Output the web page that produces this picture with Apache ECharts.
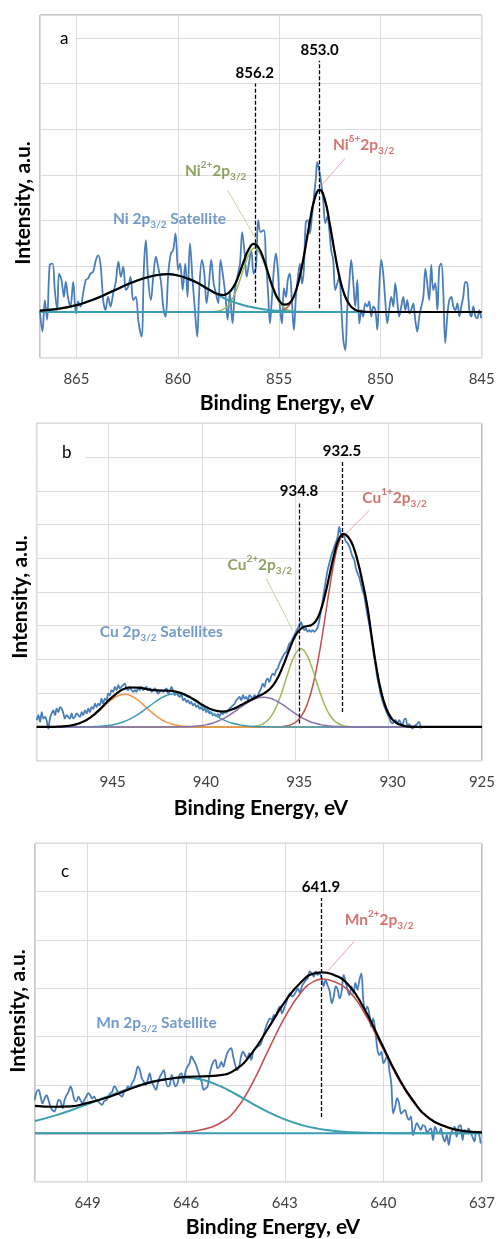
<!DOCTYPE html>
<html>
<head>
<meta charset="utf-8">
<script src="https://cdn.jsdelivr.net/npm/echarts/dist/echarts.min.js"></script>
<style>
  html, body { margin: 0; padding: 0; background: #ffffff; }
  #chart { width: 498px; height: 1239px; }
</style>
</head>
<body>
<div id="chart"></div>
<script>
// ---------- (a) Ni 2p3/2 region : [binding energy / eV, intensity / a.u.] ----------
const niSpectrum = [
  [866.81,0.04],[866.68,-0.43],[866.56,0.26],[866.45,-0.17],[866.32,1.03],[866.18,1.06],[866.07,0.48],[865.95,0.04],
  [865.86,0.84],[865.74,0.70],[865.62,0.33],[865.53,0.66],[865.41,0.30],[865.30,0.12],[865.16,0.66],[865.03,-0.03],
  [864.92,0.23],[864.80,0.12],[864.67,0.41],[864.54,0.70],[864.42,0.74],[864.31,0.84],[864.18,0.88],[864.04,1.14],
  [863.93,1.24],[863.81,1.03],[863.68,0.26],[863.57,0.04],[863.44,0.33],[863.32,0.12],[863.19,0.41],[863.06,0.66],
  [862.93,1.10],[862.81,0.77],[862.69,0.99],[862.56,0.48],[862.45,0.55],[862.33,0.77],[862.20,0.26],[862.07,0.33],
  [861.94,-0.21],[861.79,-0.54],[861.67,0.99],[861.58,1.57],[861.46,0.70],[861.33,0.26],[861.21,0.77],[861.08,1.21],
  [860.97,0.99],[860.83,0.66],[860.72,0.12],[860.60,-0.10],[860.47,0.84],[860.34,1.28],[860.23,1.35],[860.11,1.72],
  [859.98,0.92],[859.88,1.06],[859.76,0.48],[859.63,1.06],[859.52,0.33],[859.40,1.50],[859.27,0.70],[859.16,0.08],
  [859.04,-0.54],[858.94,0.48],[858.81,1.14],[858.69,0.84],[858.58,0.19],[858.46,0.63],[858.35,1.14],[858.23,0.63],
  [858.12,0.41],[858.00,0.19],[857.89,1.14],[857.76,0.77],[857.64,0.33],[857.54,-0.17],[857.43,0.41],[857.30,-0.25],
  [857.18,0.48],[857.06,0.77],[856.93,1.06],[856.82,1.75],[856.70,1.28],[856.60,0.77],[856.49,1.06],[856.37,1.35],
  [856.26,0.84],[856.14,0.99],[856.03,2.01],[855.91,1.75],[855.75,1.79],[855.65,1.14],[855.55,0.48],[855.45,-0.25],
  [855.36,0.26],[855.26,0.92],[855.16,1.28],[855.06,0.92],[854.96,0.12],[854.86,-0.25],[854.76,0.52],[854.66,0.33],
  [854.57,0.70],[854.47,0.84],[854.37,0.26],[854.27,-0.39],[854.17,0.33],[854.07,0.77],[853.97,1.06],[853.87,0.62],
  [853.78,0.92],[853.68,1.97],[853.58,2.01],[853.48,1.72],[853.38,2.08],[853.28,2.52],[853.18,2.95],[853.12,3.28],
  [853.02,3.10],[852.92,2.81],[852.82,2.45],[852.72,1.94],[852.62,2.08],[852.52,1.79],[852.43,1.35],[852.33,1.14],
  [852.23,0.48],[852.13,0.62],[852.03,0.77],[851.93,0.12],[851.83,-0.61],[851.73,-0.83],[851.64,0.04],[851.54,0.62],
  [851.44,1.14],[851.34,0.66],[851.24,0.12],[851.14,0.70],[851.04,-0.25],[850.94,0.04],[850.85,-0.10],[850.75,0.19],
  [850.65,0.12],[850.55,0.23],[850.45,-0.10],[850.35,0.12],[850.25,0.04],[850.15,-0.39],[850.06,0.48],[849.96,1.14],
  [849.86,0.84],[849.76,0.26],[849.66,-0.25],[849.56,0.08],[849.46,0.33],[849.36,0.12],[849.27,0.63],[849.17,0.26],
  [849.07,-0.10],[848.97,0.12],[848.87,0.33],[848.77,0.04],[848.67,0.26],[848.57,-0.03],[848.48,0.04],[848.38,0.19],
  [848.28,-0.17],[848.18,-0.43],[848.08,-0.10],[847.98,0.12],[847.88,0.33],[847.78,0.95],[847.69,0.63],[847.59,0.26],
  [847.49,1.03],[847.39,0.48],[847.29,0.63],[847.19,0.04],[847.09,0.99],[846.99,1.06],[846.90,0.48],[846.80,-0.68],
  [846.70,-0.10],[846.60,0.26],[846.50,0.33],[846.40,0.12],[846.30,0.04],[846.20,0.19],[846.10,-0.10],[846.01,0.12],
  [845.91,0.33],[845.81,0.66],[845.71,0.63],[845.61,0.04],[845.51,-0.10],[845.41,0.12],[845.31,-0.10],[845.22,-0.14],
  [845.12,0.04],[845.02,-0.14]
];
const niFitTotal = [
  [866.8,0.03],[866.5,0.04],[866.0,0.065],[865.5,0.10],[865.0,0.15],[864.5,0.22],[864.0,0.30],[863.5,0.40],
  [863.0,0.50],[862.5,0.60],[862.0,0.69],[861.5,0.76],[861.0,0.81],[860.5,0.83],[860.0,0.80],[859.5,0.73],
  [859.0,0.63],[858.5,0.50],[858.25,0.44],[858.0,0.39],[857.75,0.37],[857.5,0.415],[857.25,0.55],[857.0,0.79],
  [856.75,1.10],[856.5,1.37],[856.25,1.49],[856.0,1.40],[855.75,1.14],[855.5,0.79],[855.25,0.47],[855.0,0.255],
  [854.75,0.16],[854.5,0.19],[854.25,0.37],[854.0,0.74],[853.75,1.29],[853.5,1.93],[853.25,2.47],[853.0,2.68],
  [852.75,2.47],[852.5,1.93],[852.25,1.29],[852.0,0.73],[851.75,0.35],[851.5,0.144],[851.25,0.05],[851.0,0.015],
  [850.5,0],[848.0,0],[845.0,0]
];
const niSatellite = [
  [866.8,0.03],[866.5,0.04],[866.0,0.065],[865.5,0.10],[865.0,0.15],[864.5,0.22],[864.0,0.30],[863.5,0.40],
  [863.0,0.50],[862.5,0.60],[862.0,0.69],[861.5,0.76],[861.0,0.81],[860.5,0.83],[860.0,0.80],[859.5,0.73],
  [859.0,0.63],[858.5,0.50],[858.0,0.37],[857.5,0.26],[857.0,0.18],[856.5,0.12],[856.0,0.075],[855.5,0.045],
  [855.0,0.025],[854.5,0.012],[854.0,0.005],[853.5,0.002],[853.0,0],[850.0,0],[845.0,0]
];
const niNi2 = [
  [866.8,0],[862.0,0],[858.75,0],[858.5,0.001],[858.25,0.006],[858.0,0.021],[857.75,0.062],[857.5,0.155],
  [857.25,0.334],[857.0,0.61],[856.75,0.945],[856.5,1.245],[856.2,1.40],[856.0,1.33],[855.75,1.08],[855.5,0.74],
  [855.25,0.43],[855.0,0.215],[854.75,0.091],[854.5,0.033],[854.25,0.01],[854.0,0.002],[853.75,0],[850.0,0],[845.0,0]
];
const niNiDelta = [
  [866.8,0],[860.0,0],[856.0,0],[855.75,0.001],[855.5,0.002],[855.25,0.004],[855.0,0.015],[854.75,0.05],
  [854.5,0.144],[854.25,0.35],[854.0,0.73],[853.75,1.29],[853.5,1.93],[853.25,2.47],[853.0,2.68],[852.75,2.47],
  [852.5,1.93],[852.25,1.29],[852.0,0.73],[851.75,0.35],[851.5,0.144],[851.25,0.05],[851.0,0.015],[850.75,0.003],
  [850.5,0],[848.0,0],[845.0,0]
];
const niBackground = [[866.8,0],[845.0,0]];
const niPeaks = [856.2, 853.0];
const niTicks = [845, 850, 855, 860, 865];

// ---------- (b) Cu 2p3/2 region ----------
const cuSpectrum = [
  [948.85,0.20],[948.76,0.35],[948.67,0.15],[948.58,0.44],[948.49,0.25],[948.40,0.30],[948.32,0.20],[948.23,-0.05],
  [948.14,0.25],[948.05,0.40],[947.96,0.49],[947.87,0.35],[947.78,0.54],[947.69,0.44],[947.60,0.59],[947.51,0.54],
  [947.42,0.40],[947.34,0.25],[947.25,0.35],[947.16,0.30],[947.07,0.25],[946.98,0.40],[946.89,0.25],[946.80,0.30],
  [946.71,0.40],[946.62,0.35],[946.53,0.30],[946.44,0.44],[946.36,0.35],[946.27,0.49],[946.18,0.40],[946.09,0.54],
  [946.00,0.44],[945.91,0.59],[945.82,0.54],[945.73,0.69],[945.64,0.59],[945.55,0.69],[945.47,0.64],[945.38,0.84],
  [945.29,0.69],[945.20,0.84],[945.11,0.79],[945.02,0.99],[944.93,0.94],[944.84,1.09],[944.75,1.04],[944.66,1.19],
  [944.57,1.09],[944.48,1.24],[944.40,1.14],[944.31,1.19],[944.22,1.24],[944.13,1.28],[944.04,1.14],[943.95,1.09],
  [943.86,1.19],[943.77,1.09],[943.68,1.04],[943.59,1.09],[943.51,1.04],[943.42,1.14],[943.33,1.09],[943.24,1.19],
  [943.15,1.09],[943.06,1.14],[942.97,1.19],[942.88,1.09],[942.79,1.14],[942.70,1.04],[942.61,1.09],[942.53,1.14],
  [942.44,1.09],[942.35,0.99],[942.26,1.04],[942.17,1.09],[942.08,1.04],[941.99,1.09],[941.90,1.14],[941.81,0.99],
  [941.72,1.04],[941.63,1.19],[941.55,1.09],[941.46,0.94],[941.37,0.99],[941.28,0.94],[941.19,0.89],[941.10,0.99],
  [941.01,0.79],[940.92,0.84],[940.83,0.74],[940.74,0.79],[940.65,0.69],[940.57,0.74],[940.48,0.64],[940.39,0.69],
  [940.30,0.59],[940.21,0.64],[940.12,0.54],[940.03,0.59],[939.94,0.49],[939.85,0.54],[939.76,0.44],[939.67,0.49],
  [939.59,0.40],[939.50,0.44],[939.41,0.35],[939.32,0.38],[939.23,0.32],[939.14,0.38],[939.05,0.32],[938.96,0.42],
  [938.87,0.38],[938.78,0.44],[938.69,0.42],[938.61,0.49],[938.52,0.54],[938.43,0.59],[938.34,0.64],[938.25,0.69],
  [938.16,0.79],[938.07,0.84],[937.98,0.89],[937.89,0.79],[937.80,0.94],[937.71,0.84],[937.63,0.89],[937.54,0.79],
  [937.45,0.94],[937.36,0.89],[937.27,0.84],[937.18,0.94],[937.09,0.89],[937.00,0.94],[936.92,1.04],[936.83,1.14],
  [936.74,1.28],[936.65,1.19],[936.56,1.38],[936.47,1.43],[936.39,1.33],[936.30,1.48],[936.21,1.58],[936.12,1.53],
  [936.03,1.68],[935.94,1.73],[935.85,1.88],[935.76,1.98],[935.67,2.08],[935.58,2.17],[935.49,2.22],[935.41,2.32],
  [935.32,2.47],[935.23,2.52],[935.14,2.62],[935.05,2.72],[934.96,2.82],[934.87,2.92],[934.78,3.01],[934.69,3.11],
  [934.60,2.96],[934.51,2.87],[934.43,2.92],[934.34,2.82],[934.25,2.87],[934.16,2.82],[934.07,2.87],[933.98,2.82],
  [933.89,2.87],[933.80,2.96],[933.71,3.16],[933.62,3.46],[933.53,3.75],[933.45,4.05],[933.36,4.35],[933.27,4.64],
  [933.18,4.84],[933.09,5.04],[933.00,5.19],[932.91,5.34],[932.82,5.48],[932.73,5.63],[932.64,5.93],[932.56,5.73],
  [932.47,5.68],[932.38,5.63],[932.29,5.50],[932.20,5.45],[932.11,5.35],[932.02,5.20],[931.93,5.05],[931.84,4.95],
  [931.75,4.70],[931.66,4.55],[931.58,4.45],[931.49,4.25],[931.40,4.05],[931.31,3.90],[931.22,3.60],[931.13,3.30],
  [931.04,3.05],[930.95,2.75],[930.86,2.40],[930.77,2.05],[930.68,1.75],[930.60,1.45],[930.51,1.20],[930.42,0.95],
  [930.33,0.78],[930.24,0.62],[930.15,0.50],[930.06,0.38],[929.97,0.28],[929.88,0.15],[929.79,0.10],[929.70,0.18],
  [929.62,0.20],[929.53,0.08],[929.44,0.20],[929.35,0.12],[929.26,0.05],[929.17,0.22],[929.08,0.25],[928.99,0.00],
  [928.90,0.08],[928.81,0.02],[928.72,-0.05],[928.63,0.03],[928.55,0.05],[928.46,0.10],[928.37,0.15],[928.28,-0.05]
];
const cuFitTotal = [
  [948.85,0],[948.4,0.001],[947.9,0.005],[947.4,0.018],[946.9,0.057],[946.4,0.146],[945.9,0.313],[945.4,0.559],
  [944.9,0.838],[944.4,1.063],[944.15,1.134],[943.9,1.170],[943.4,1.166],[942.9,1.116],[942.4,1.085],[941.9,1.077],
  [941.4,1.048],[940.9,0.958],[940.4,0.806],[939.9,0.633],[939.4,0.501],[938.9,0.457],[938.4,0.515],[937.9,0.648],
  [937.65,0.725],[937.4,0.799],[937.15,0.867],[936.9,0.931],[936.65,1.003],[936.4,1.105],[936.15,1.261],[935.9,1.499],
  [935.65,1.813],[935.4,2.174],[935.15,2.522],[934.9,2.787],[934.65,2.934],[934.4,2.986],[934.15,3.016],[933.9,3.137],
  [933.65,3.434],[933.4,3.924],[933.15,4.539],[932.9,5.145],[932.65,5.583],[932.4,5.723],[932.15,5.62],[931.9,5.36],
  [931.65,4.90],[931.4,4.30],[931.15,3.60],[930.9,2.65],[930.65,1.75],[930.4,1.05],[930.15,0.58],[929.9,0.30],
  [929.65,0.15],[929.4,0.07],[929.15,0.03],[928.9,0.01],[928.4,0],[927.0,0],[925.0,0]
];
const cuSatA = [
  [948.85,0],[948.4,0.001],[947.9,0.005],[947.4,0.018],[946.9,0.056],[946.4,0.143],[945.9,0.305],[945.4,0.537],
  [944.9,0.784],[944.4,0.947],[944.15,0.970],[943.9,0.947],[943.4,0.784],[942.9,0.537],[942.4,0.305],[941.9,0.143],
  [941.4,0.056],[940.9,0.018],[940.4,0.005],[939.9,0.001],[939.4,0],[935.0,0],[925.0,0]
];
const cuSatB = [
  [948.85,0],[947.4,0],[946.9,0.001],[946.4,0.003],[945.9,0.008],[945.4,0.022],[944.9,0.054],[944.4,0.116],
  [944.15,0.164],[943.9,0.223],[943.4,0.382],[942.9,0.579],[942.4,0.780],[941.9,0.933],[941.4,0.990],[940.9,0.933],
  [940.4,0.780],[939.9,0.579],[939.4,0.382],[938.9,0.223],[938.4,0.116],[937.9,0.054],[937.65,0.035],[937.4,0.022],
  [937.15,0.013],[936.9,0.008],[936.4,0.003],[935.9,0.001],[935.4,0],[931.0,0],[925.0,0]
];
const cuSatC = [
  [948.85,0],[944.0,0],[941.9,0],[941.4,0.002],[940.9,0.007],[940.4,0.021],[939.9,0.053],[939.4,0.119],
  [938.9,0.234],[938.4,0.399],[937.9,0.593],[937.65,0.687],[937.4,0.769],[937.15,0.833],[936.9,0.870],[936.65,0.879],
  [936.4,0.859],[936.15,0.810],[935.9,0.739],[935.65,0.651],[935.4,0.554],[935.15,0.456],[934.9,0.362],[934.65,0.278],
  [934.4,0.207],[934.15,0.148],[933.9,0.103],[933.65,0.069],[933.4,0.045],[933.15,0.028],[932.9,0.017],[932.65,0.010],
  [932.4,0.006],[931.9,0.002],[931.4,0],[928.0,0],[925.0,0]
];
const cuCu2 = [
  [948.85,0],[942.0,0],[938.4,0],[937.9,0.001],[937.65,0.003],[937.4,0.008],[937.15,0.021],[936.9,0.053],
  [936.65,0.119],[936.4,0.243],[936.15,0.449],[935.9,0.753],[935.65,1.146],[935.4,1.582],[935.15,1.981],[934.9,2.249],
  [934.7,2.32],[934.45,2.20],[934.15,1.832],[933.9,1.407],[933.65,0.981],[933.4,0.620],[933.15,0.355],[932.9,0.185],
  [932.65,0.087],[932.4,0.037],[932.15,0.014],[931.9,0.005],[931.65,0.002],[931.4,0],[928.0,0],[925.0,0]
];
const cuCu1 = [
  [948.85,0],[942.0,0],[936.4,0],[936.15,0.002],[935.9,0.006],[935.65,0.016],[935.4,0.038],[935.15,0.085],
  [934.9,0.176],[934.65,0.341],[934.4,0.616],[934.15,1.036],[933.9,1.627],[933.65,2.384],[933.4,3.259],[933.15,4.156],
  [932.9,4.943],[932.65,5.486],[932.4,5.68],[932.15,5.60],[931.9,5.35],[931.65,4.90],[931.4,4.30],[931.15,3.60],
  [930.9,2.65],[930.65,1.75],[930.4,1.05],[930.15,0.58],[929.9,0.30],[929.65,0.15],[929.4,0.07],[929.15,0.03],
  [928.9,0.01],[928.4,0],[927.0,0],[925.0,0]
];
const cuPeaks = [934.8, 932.5];
const cuTicks = [925, 930, 935, 940, 945];

// ---------- (c) Mn 2p3/2 region ----------
const mnSpectrum = [
  [650.61,0.69],[650.55,0.86],[650.49,0.90],[650.43,0.76],[650.37,0.62],[650.31,0.72],[650.25,0.79],[650.19,0.69],
  [650.13,0.55],[650.07,0.48],[650.01,0.45],[649.95,0.55],[649.88,0.69],[649.82,0.66],[649.76,0.52],[649.70,0.69],
  [649.64,0.79],[649.58,0.86],[649.52,0.97],[649.46,0.86],[649.40,0.69],[649.34,0.66],[649.28,0.76],[649.22,0.69],
  [649.16,0.62],[649.10,0.69],[649.04,0.76],[648.98,0.83],[648.92,0.79],[648.86,0.72],[648.80,0.76],[648.74,0.69],
  [648.68,0.66],[648.62,0.62],[648.56,0.59],[648.50,0.66],[648.43,0.69],[648.37,0.76],[648.31,0.83],[648.25,0.86],
  [648.19,0.97],[648.13,0.93],[648.07,0.83],[648.01,0.79],[647.95,0.76],[647.89,0.86],[647.83,0.90],[647.77,0.97],
  [647.71,0.93],[647.65,1.04],[647.59,1.10],[647.53,1.24],[647.47,1.38],[647.41,1.31],[647.35,1.14],[647.29,1.07],
  [647.23,1.00],[647.17,1.10],[647.11,1.24],[647.05,1.07],[646.98,0.97],[646.92,0.90],[646.86,1.04],[646.80,1.17],
  [646.74,1.24],[646.68,1.31],[646.62,1.10],[646.56,0.97],[646.50,1.00],[646.44,1.21],[646.38,1.07],[646.32,0.97],
  [646.26,1.04],[646.20,1.21],[646.14,1.24],[646.08,1.04],[646.02,1.28],[645.96,1.38],[645.90,1.45],[645.84,1.59],
  [645.78,1.52],[645.72,1.45],[645.65,1.31],[645.59,1.17],[645.53,1.07],[645.47,0.90],[645.41,0.93],[645.35,0.97],
  [645.29,1.21],[645.23,1.38],[645.17,1.48],[645.11,1.52],[645.05,1.35],[644.99,1.38],[644.93,1.48],[644.87,1.38],
  [644.81,1.52],[644.75,1.66],[644.69,1.73],[644.63,1.76],[644.57,1.59],[644.51,1.42],[644.45,1.31],[644.39,1.38],
  [644.33,1.59],[644.27,1.69],[644.21,1.62],[644.15,1.55],[644.08,1.66],[644.02,1.52],[643.96,1.69],[643.90,1.76],
  [643.84,1.79],[643.75,1.83],[643.69,1.93],[643.63,2.07],[643.57,2.21],[643.51,2.31],[643.45,2.38],[643.39,2.35],
  [643.33,2.45],[643.27,2.42],[643.21,2.55],[643.15,2.62],[643.08,2.48],[643.02,2.59],[642.96,2.69],[642.90,2.83],
  [642.84,2.90],[642.78,2.83],[642.72,2.86],[642.66,2.93],[642.60,3.00],[642.54,2.90],[642.48,3.04],[642.42,3.11],
  [642.36,3.17],[642.30,3.21],[642.24,3.35],[642.18,3.31],[642.12,3.24],[642.06,3.35],[642.00,3.28],[641.94,3.31],
  [641.88,3.21],[641.82,3.04],[641.76,3.17],[641.70,3.07],[641.63,2.93],[641.57,2.69],[641.51,2.83],[641.45,3.04],
  [641.39,2.97],[641.33,2.79],[641.27,2.93],[641.21,3.28],[641.15,3.14],[641.09,2.97],[641.03,2.86],[640.97,3.04],
  [640.91,2.90],[640.85,3.11],[640.79,2.97],[640.73,3.17],[640.67,3.31],[640.61,2.76],[640.55,2.55],[640.49,2.62],
  [640.43,2.48],[640.37,2.21],[640.31,2.38],[640.24,2.10],[640.18,1.73],[640.12,1.62],[640.06,1.69],[640.00,1.45],
  [639.94,1.52],[639.88,1.62],[639.82,1.31],[639.76,1.04],[639.70,0.41],[639.64,0.55],[639.58,0.73],[639.52,0.62],
  [639.46,0.41],[639.40,0.45],[639.34,0.48],[639.28,0.35],[639.22,0.28],[639.16,0.35],[639.10,-0.04],[639.04,0.10],
  [638.98,0.21],[638.92,0.14],[638.86,0.07],[638.80,0.17],[638.73,0.14],[638.67,0.00],[638.61,0.07],[638.55,0.10],
  [638.49,-0.14],[638.43,0.14],[638.37,0.04],[638.31,0.00],[638.25,0.10],[638.19,-0.07],[638.13,-0.17],[638.07,-0.03],
  [638.01,-0.24],[637.95,0.00],[637.89,0.07],[637.83,0.14],[637.77,-0.07],[637.71,0.14],[637.65,0.17],[637.59,-0.14],
  [637.53,0.07],[637.47,0.00],[637.41,0.10],[637.35,0.03],[637.29,-0.07],[637.23,-0.17],[637.17,0.03],[637.10,0.00],
  [637.04,-0.21]
];
const mnFitTotal = [
  [650.6,0.57],[650.0,0.55],[649.5,0.56],[649.0,0.63],[648.5,0.72],[648.0,0.84],[647.5,0.97],[647.0,1.07],
  [646.5,1.13],[646.0,1.17],[645.5,1.18],[645.0,1.20],[644.5,1.32],[644.0,1.66],[643.5,2.18],[643.0,2.72],
  [642.5,3.13],[642.1,3.31],[641.85,3.33],[641.6,3.30],[641.1,3.10],[640.6,2.60],[640.1,1.92],[639.6,1.23],
  [639.1,0.68],[638.6,0.31],[638.1,0.14],[637.6,0.05],[637.0,0.02]
];
const mnMain = [
  [650.6,0],[648.0,0],[647.0,0],[646.5,0.01],[646.0,0.03],[645.5,0.08],[645.0,0.20],[644.5,0.48],
  [644.0,1.02],[643.5,1.72],[643.0,2.40],[642.5,2.92],[642.1,3.15],[641.85,3.19],[641.6,3.16],[641.1,2.98],
  [640.6,2.52],[640.1,1.87],[639.6,1.20],[639.1,0.66],[638.6,0.30],[638.1,0.13],[637.6,0.05],[637.0,0.02]
];
const mnSatellite = [
  [650.6,0.254],[650.0,0.367],[649.5,0.479],[649.0,0.605],[648.5,0.736],[648.0,0.864],[647.5,0.979],[647.0,1.071],
  [646.5,1.129],[646.0,1.150],[645.5,1.107],[645.0,0.986],[644.5,0.814],[644.0,0.622],[643.5,0.440],[643.0,0.288],
  [642.5,0.175],[642.0,0.098],[641.5,0.051],[641.0,0.025],[640.5,0.011],[640.0,0.005],[639.5,0.002],[639.0,0.001],
  [638.5,0],[637.0,0]
];
const mnBackground = [[650.6,0],[637.0,0]];
const mnPeaks = [641.9];
const mnTicks = [637, 640, 643, 646, 649];

// ---------- styling ----------
const FONT = 'Lato, "Open Sans", "Noto Sans", sans-serif';
const C = {
  data: '#4a7ebb', fit: '#000000',
  teal: '#3a9db3', green: '#9bbb59', red: '#c0504d', orange: '#f79646', purple: '#8a70ad',
  txtBlue: '#4f81bd', txtGreen: '#71893a', txtRed: '#c9504b',
  leadGreen: '#c3d69b', leadRed: '#e8a3a1',
  grid: '#dcdcdc', border: '#8c8c8c', tick: '#3f3f3f'
};

const panels = [
  { box: { left: 40, top: 15, width: 441.7, height: 342.7 }, xMin: 845, xMax: 866.8, step: 5, yMax: 6.5, ticks: niTicks, shift: 0,
    title: { text: 'a', left: 41, top: 16, padding: [14, 7, 3, 19] },
    xName: { x: 287, y: 403 }, yName: { x: 23, y: 203 } },
  { box: { left: 36.7, top: 423.3, width: 446.6, height: 337.4 }, xMin: 925, xMax: 948.85, step: 5, yMax: 9, ticks: cuTicks, shift: 8,
    title: { text: 'b', left: 38, top: 424, padding: [20, 14, 2, 24] },
    xName: { x: 261, y: 808 }, yName: { x: 20, y: 597 } },
  { box: { left: 35, top: 843.3, width: 449, height: 338.4 }, xMin: 637, xMax: 650.6, step: 3, yMax: 6, ticks: mnTicks, shift: 0,
    title: { text: 'c', left: 36, top: 844, padding: [19, 12, 5, 25] },
    xName: { x: 273, y: 1227 }, yName: { x: 18, y: 1011 } }
];

function curve(axis, data, color, width, z, smooth) {
  return {
    type: 'line', xAxisIndex: axis, yAxisIndex: axis, data: data,
    showSymbol: false, symbol: 'none', smooth: smooth, silent: true, animation: false, z: z,
    lineStyle: { color: color, width: width }
  };
}

function richFor(color) {
  return {
    sup: { fontFamily: FONT, fontWeight: 'bold', fontSize: 10, lineHeight: 20, verticalAlign: 'top', color: color },
    sub: { fontFamily: FONT, fontWeight: 'bold', fontSize: 10, lineHeight: 10, verticalAlign: 'bottom', color: color }
  };
}

function notes(axis, items) {
  return {
    type: 'scatter', xAxisIndex: axis, yAxisIndex: axis, silent: true, z: 30, animation: false,
    symbol: 'circle', symbolSize: 0.1, itemStyle: { color: 'rgba(0,0,0,0)' },
    data: items.map(function (it) {
      return {
        value: [it.x, it.y],
        label: {
          show: true, position: 'right', distance: 0, formatter: it.text,
          color: it.color, fontFamily: FONT, fontWeight: 'bold', fontSize: 15.5, lineHeight: 22,
          rich: richFor(it.color)
        }
      };
    })
  };
}

function leader(axis, from, to, color) {
  return {
    type: 'line', xAxisIndex: axis, yAxisIndex: axis, data: [from, to],
    showSymbol: false, symbol: 'none', silent: true, animation: false, z: 25,
    lineStyle: { color: color, width: 1 }
  };
}

function peakLines(peaks, spans) {
  return {
    silent: true, animation: false, symbol: ['none', 'none'],
    lineStyle: { color: '#000', type: [4, 2], width: 1.3 },
    label: { show: true, position: 'end', distance: 3, formatter: '{b}', color: '#000',
             fontFamily: FONT, fontWeight: 'bold', fontSize: 15 },
    data: peaks.map(function (p, i) {
      return [{ name: p.toFixed(1), coord: [p, spans[i][0]] }, { coord: [p, spans[i][1]] }];
    })
  };
}

const grids = panels.map(function (p) {
  return Object.assign({ show: true, borderColor: C.border, borderWidth: 1, backgroundColor: 'transparent' }, p.box);
});

const xAxes = panels.map(function (p, i) {
  return {
    gridIndex: i, type: 'value', inverse: true, min: p.xMin, max: p.xMax, interval: p.step,
    axisLine: { show: false }, axisTick: { show: false },
    splitLine: { show: true, lineStyle: { color: C.grid, width: 1 } },
    axisLabel: {
      showMaxLabel: false, margin: 14,
      formatter: function (v) {
        if (p.ticks.indexOf(v) < 0) return '';
        return (p.shift && v !== p.xMin) ? '{s|' + v + '}' : '{e|' + v + '}';
      },
      rich: {
        s: { fontFamily: FONT, fontSize: 15, color: C.tick, padding: [0, 0, 0, p.shift] },
        e: { fontFamily: FONT, fontSize: 15, color: C.tick }
      }
    }
  };
});

const yAxes = panels.map(function (p, i) {
  return {
    gridIndex: i, type: 'value', min: -1, max: p.yMax, interval: 1,
    axisLine: { show: false }, axisTick: { show: false }, axisLabel: { show: false },
    splitLine: { show: true, lineStyle: { color: C.grid, width: 1 } }
  };
});

const titles = panels.map(function (p) {
  return {
    text: p.title.text, left: p.title.left, top: p.title.top, padding: p.title.padding,
    backgroundColor: '#ffffff', z: 5,
    textStyle: { fontFamily: FONT, fontSize: 17, fontWeight: 'normal', color: '#000', lineHeight: 17 }
  };
});

const axisNames = [];
panels.forEach(function (p) {
  axisNames.push({ type: 'text', x: p.xName.x, y: p.xName.y, silent: true,
    style: { text: 'Binding Energy, eV', font: 'bold 21px ' + FONT, fill: '#000', textAlign: 'center', textVerticalAlign: 'middle' } });
  axisNames.push({ type: 'text', x: p.yName.x, y: p.yName.y, rotation: Math.PI / 2, silent: true,
    style: { text: 'Intensity, a.u.', font: 'bold 21px ' + FONT, fill: '#000', textAlign: 'center', textVerticalAlign: 'middle' } });
});

// panel a
const seriesA = [
  curve(0, niSpectrum, C.data, 1.8, 2, 0.35),
  curve(0, niNi2, C.green, 1.5, 3, true),
  curve(0, niNiDelta, C.red, 1.5, 3, true),
  curve(0, niBackground, C.teal, 2, 4, false),
  curve(0, niSatellite, C.teal, 2, 4, true),
  Object.assign(curve(0, niFitTotal, C.fit, 2.2, 6, true), { markLine: peakLines(niPeaks, [[0.2, 5.0], [0.08, 5.5]]) }),
  leader(0, [857.53, 2.66], [856.11, 1.57], C.leadGreen),
  leader(0, [851.75, 3.36], [852.90, 2.77], C.leadRed),
  notes(0, [
    { x: 852.34, y: 3.66, text: 'Ni{sup|δ+}2p{sub|3/2}', color: C.txtRed },
    { x: 859.65, y: 3.08, text: 'Ni{sup|2+}2p{sub|3/2}', color: C.txtGreen },
    { x: 863.20, y: 2.03, text: 'Ni 2p{sub|3/2} Satellite', color: C.txtBlue }
  ])
];

// panel b
const seriesB = [
  curve(1, cuSpectrum, C.data, 1.8, 2, 0.35),
  curve(1, cuCu1, C.red, 1.5, 3, true),
  curve(1, cuCu2, C.green, 1.5, 3, true),
  curve(1, cuSatA, C.orange, 1.5, 3, true),
  curve(1, cuSatB, C.teal, 1.5, 3, true),
  curve(1, cuSatC, C.purple, 1.5, 4, true),
  Object.assign(curve(1, cuFitTotal, C.fit, 2.2, 6, true), { markLine: peakLines(cuPeaks, [[0.10, 6.67], [0.44, 7.85]]) }),
  leader(1, [931.04, 6.42], [932.28, 5.73], C.leadRed),
  leader(1, [936.56, 4.40], [935.14, 2.87], C.leadGreen),
  notes(1, [
    { x: 931.41, y: 6.80, text: 'Cu{sup|1+}2p{sub|3/2}', color: C.txtRed },
    { x: 938.63, y: 4.80, text: 'Cu{sup|2+}2p{sub|3/2}', color: C.txtGreen },
    { x: 945.47, y: 2.81, text: 'Cu 2p{sub|3/2} Satellites', color: C.txtBlue }
  ])
];

// panel c
const seriesC = [
  curve(2, mnSpectrum, C.data, 1.8, 2, 0.35),
  curve(2, mnMain, C.red, 1.6, 3, true),
  curve(2, mnBackground, C.teal, 2, 4, false),
  curve(2, mnSatellite, C.teal, 2, 4, true),
  Object.assign(curve(2, mnFitTotal, C.fit, 2.2, 6, true), { markLine: peakLines(mnPeaks, [[0.34, 4.87]]) }),
  leader(2, [640.89, 3.97], [641.70, 3.35], C.leadRed),
  notes(2, [
    { x: 641.18, y: 4.42, text: 'Mn{sup|2+}2p{sub|3/2}', color: C.txtRed },
    { x: 648.74, y: 2.28, text: 'Mn 2p{sub|3/2} Satellite', color: C.txtBlue }
  ])
];

const chart = echarts.init(document.getElementById('chart'), null, { renderer: 'canvas' });
chart.setOption({
  animation: false,
  backgroundColor: '#ffffff',
  title: titles,
  grid: grids,
  xAxis: xAxes,
  yAxis: yAxes,
  graphic: axisNames,
  series: seriesA.concat(seriesB, seriesC)
});
</script>
</body>
</html>
